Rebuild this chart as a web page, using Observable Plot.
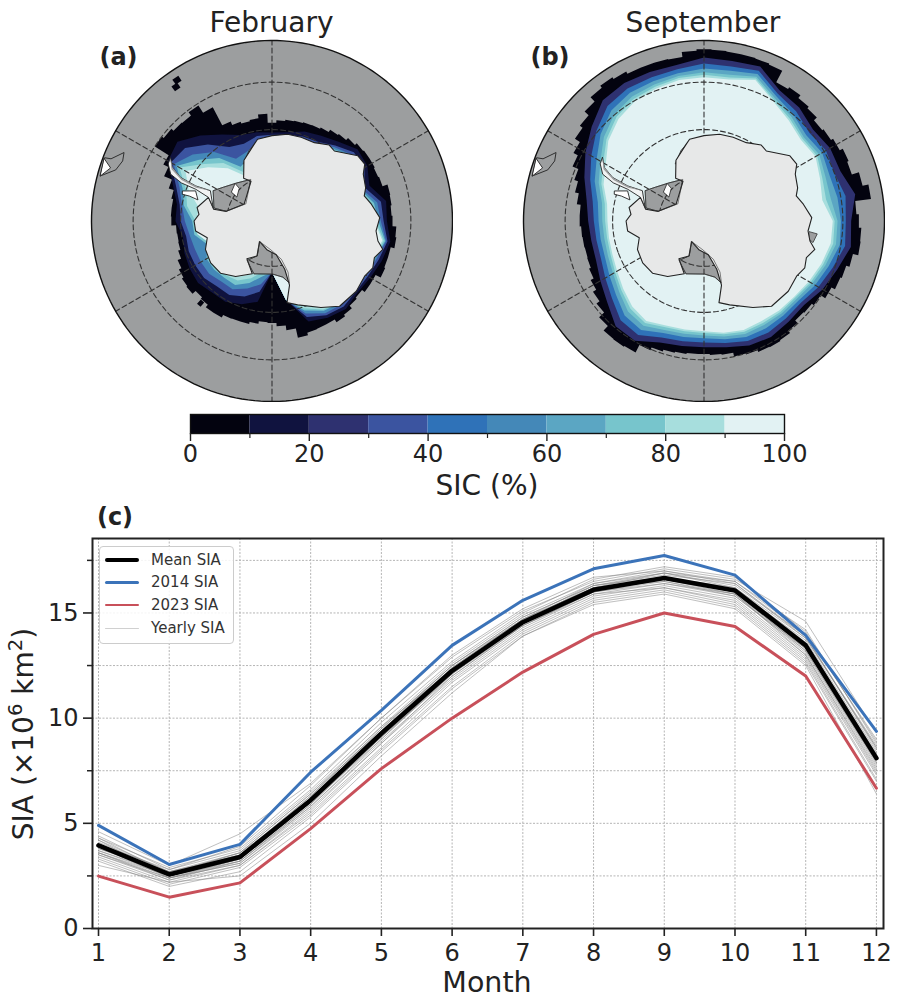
<!DOCTYPE html>
<html><head><meta charset="utf-8">
<script src="https://cdn.jsdelivr.net/npm/d3@7"></script>
<script src="https://cdn.jsdelivr.net/npm/@observablehq/plot@0.6"></script>
<style>
html,body{margin:0;padding:0;background:#fff}
#page{position:relative;width:897px;height:998px;overflow:hidden;font-family:"DejaVu Sans",sans-serif;color:#222}
#page svg{position:absolute;background:transparent;font-family:"DejaVu Sans",sans-serif}
.lab{position:absolute;transform:translate(-50%,-50%);white-space:nowrap;line-height:1}
.lab sup{font-size:.7em;line-height:0;vertical-align:.55em}
</style></head><body><div id="page"></div>
<script>
// ---------- chart (c) data ----------
const months=[1,2,3,4,5,6,7,8,9,10,11,12];
const meanSIA=[3.95,2.57,3.4,6.1,9.27,12.25,14.56,16.1,16.66,16.07,13.46,8.1];
const sia2014=[4.9,3.04,4.0,7.43,10.37,13.46,15.6,17.1,17.73,16.8,13.93,9.37];
const sia2023=[2.49,1.49,2.17,4.75,7.6,10.0,12.19,13.98,15.0,14.36,12.0,6.67];
const yearlySIA=[
[4.6,3.0,4.5,6.9,10.0,12.9,15.1,16.5,17.1,16.6,14.6,9.3],
[4.3,2.9,3.8,6.6,9.8,12.7,15.0,16.6,17.2,16.7,14.1,8.9],
[4.4,2.8,3.9,6.8,10.0,13.0,15.2,16.7,17.0,16.4,13.9,8.6],
[4.2,2.7,3.6,6.4,9.6,12.6,14.9,16.4,16.9,16.3,13.9,8.5],
[4.1,2.7,3.5,6.3,9.5,12.5,14.8,16.3,16.8,16.4,13.8,8.6],
[4.0,2.6,3.6,6.4,9.4,12.4,14.7,16.2,16.9,16.2,13.6,8.3],
[3.9,2.5,3.3,6.2,9.4,12.5,14.8,16.3,16.7,16.0,13.5,8.2],
[3.8,2.6,3.4,6.0,9.2,12.2,14.5,16.1,16.6,16.1,13.4,8.0],
[3.9,2.4,3.2,5.9,9.1,12.0,14.4,16.0,16.5,15.9,13.3,7.9],
[3.7,2.5,3.3,6.0,9.0,12.1,14.6,16.2,16.7,16.1,13.7,8.4],
[3.6,2.4,3.1,5.8,8.9,11.9,14.3,15.9,16.4,15.8,13.2,7.8],
[3.6,2.3,3.0,5.6,8.8,11.8,14.2,15.8,16.3,15.7,13.0,7.6],
[3.5,2.3,3.2,5.9,9.2,12.3,14.5,16.0,16.4,15.9,13.1,7.7],
[3.4,2.2,3.0,5.5,8.6,11.7,14.1,15.7,16.2,15.6,12.9,7.4],
[3.3,2.1,2.9,5.4,8.5,11.5,14.0,15.6,16.1,15.4,12.7,7.1],
[3.2,2.0,2.7,5.3,8.4,11.4,13.9,15.5,16.0,15.3,12.6,7.0],
[3.7,2.6,3.5,6.2,9.3,12.2,14.5,16.1,16.7,16.2,13.8,8.7],
[4.0,2.8,3.7,6.5,9.6,12.3,14.6,16.3,16.9,16.5,14.0,9.0],
[3.0,2.2,2.5,5.0,8.2,11.2,13.9,15.4,15.9,15.2,12.5,6.4],
[4.2,2.4,3.3,6.1,9.3,12.4,14.7,16.2,16.5,15.8,13.3,8.1],
[3.8,2.7,3.4,6.3,9.5,12.5,14.7,16.4,17.0,16.5,14.2,8.8],
[3.5,2.4,3.1,5.7,8.8,12.0,14.4,15.9,16.2,15.5,12.8,7.3],
[4.3,2.6,3.6,6.0,9.1,12.1,14.4,16.0,16.6,16.0,13.2,7.9],
[3.6,2.5,3.2,5.8,9.0,12.2,14.6,16.2,16.6,15.9,13.0,7.5]];
const yMajor=[0,5,10,15], yMinor=[2.5,7.5,12.5,17.5];
const legendNames=["Mean SIA","2014 SIA","2023 SIA","Yearly SIA"];
const legendColors=["#000","#3b73b9","#c8505a","#d0d0d0"];

// ---------- colour bar ----------
const sicThresholds=[10,20,30,40,50,60,70,80,90];
const sicColors=["#03030f","#10133f","#2e3170","#3b54a0","#2f72b8","#4488b8","#5ba6c3","#77c5cc","#a7dedd","#e2f2f3"];
const sicBinStarts=[0,10,20,30,40,50,60,70,80,90];
const sicMajor=[0,20,40,60,80,100], sicMinor=[10,30,50,70,90];

// ---------- ice edge latitude per 5 deg sector, from lon -180 ----------
const febOuter=[-67.7,-67.9,-67.4,-67.0,-67.0,-66.9,-66.3,-66.3,-67.0,-67.4,-66.5,-66.7,-67.1,-67.7,-68.5,-69.0,-69.1,-69.0,-68.0,-67.9,-67.9,-67.5,-66.4,-64.6,-63.4,-60.0,-60.5,-61.1,-61.2,-60.4,-62.2,-66.5,-67.3,-67.7,-67.4,-66.6,-68.5,-68.0,-67.7,-67.6,-67.4,-67.3,-67.0,-66.4,-66.1,-65.5,-65.0,-64.8,-64.8,-65.0,-64.8,-63.7,-63.8,-64.0,-63.8,-63.0,-62.8,-63.6,-63.6,-63.4,-64.6,-64.6,-65.3,-65.0,-64.3,-63.9,-64.6,-64.6,-64.5,-64.0,-66.0,-67.0];
const sepOuter=[-61.2,-61.2,-61.0,-60.8,-60.4,-59.8,-58.1,-57.9,-58.0,-59.3,-60.7,-61.5,-62.3,-63.0,-63.4,-63.5,-63.4,-63.3,-63.0,-63.0,-62.2,-61.4,-60.6,-59.3,-58.3,-57.1,-56.4,-55.3,-54.1,-53.6,-54.0,-54.5,-54.5,-54.5,-54.6,-53.6,-53.3,-53.4,-53.5,-53.5,-53.6,-53.8,-56.4,-56.0,-56.7,-57.1,-57.9,-57.6,-57.1,-56.4,-56.7,-55.2,-54.0,-57.2,-56.7,-56.2,-56.1,-57.2,-57.9,-58.2,-59.0,-60.1,-60.6,-60.8,-60.1,-59.5,-59.3,-59.4,-59.8,-60.0,-60.8,-61.0];

// ---------- SIC contour latitudes per 10 deg, from lon -180 ----------
const feb10=[-78.7,-72.0,-70.6,-69.6,-69.6,-68.9,-69.2,-69.6,-70.2,-68.9,-68.9,-67.0,-63.9,-63.2,-65.7,-68.2,-70.0,-70.3,-70.6,-70.3,-69.2,-68.5,-67.4,-65.7,-66.0,-67.4,-64.8,-65.0,-63.9,-64.6,-65.3,-65.7,-65.0,-65.7,-66.7,-72.4];
const feb30=[-78.7,-74.2,-72.4,-71.3,-71.3,-70.6,-70.6,-70.6,-70.9,-70.0,-69.5,-67.7,-64.6,-65.3,-68.2,-71.3,-72.0,-71.1,-71.1,-70.9,-70.3,-70.0,-68.5,-66.7,-66.7,-68.5,-65.9,-65.7,-64.5,-65.3,-65.9,-66.1,-65.7,-66.3,-67.7,-72.4];
const feb50=[-78.7,-75.9,-74.2,-72.7,-72.7,-72.0,-72.0,-72.0,-71.7,-70.9,-70.0,-68.5,-65.3,-67.4,-70.3,-74.2,-73.8,-72.4,-71.7,-71.7,-70.9,-70.6,-68.9,-67.4,-67.0,-69.2,-66.7,-66.3,-64.8,-65.8,-66.3,-66.5,-66.3,-66.8,-68.5,-72.4];
const feb70=[-78.7,-77.6,-75.5,-73.8,-73.7,-73.4,-73.4,-74.9,-72.7,-72.5,-70.4,-69.2,-66.0,-69.2,-72.0,-76.2,-75.2,-72.4,-71.7,-71.7,-71.3,-71.0,-69.4,-67.7,-67.2,-69.6,-67.4,-66.8,-65.0,-66.1,-66.8,-66.8,-66.7,-67.4,-69.2,-72.4];
const feb85=[-78.7,-78.7,-76.6,-74.9,-74.4,-74.5,-74.2,-75.5,-73.4,-73.2,-71.1,-70.0,-66.7,-70.6,-73.4,-77.6,-76.2,-72.4,-71.7,-71.7,-71.3,-71.0,-70.0,-68.2,-67.4,-69.6,-68.2,-67.4,-65.3,-66.5,-67.0,-66.8,-66.7,-67.7,-69.7,-72.4];
const feb90=[-78.7,-78.7,-77.6,-75.9,-75.2,-75.2,-74.2,-75.5,-73.4,-73.2,-73.8,-70.6,-68.2,-71.7,-74.9,-78.7,-77.3,-72.4,-71.7,-71.7,-71.3,-71.0,-70.3,-68.2,-67.4,-69.6,-68.5,-67.7,-65.6,-66.8,-67.2,-66.8,-66.7,-68.3,-70.6,-72.4];
const sep10=[-62.6,-62.5,-62.0,-60.1,-60.3,-62.6,-64.0,-65.0,-65.1,-64.8,-64.1,-62.4,-60.4,-58.4,-56.2,-55.8,-56.0,-56.0,-55.0,-55.2,-54.8,-57.5,-58.1,-59.3,-58.6,-58.7,-57.0,-58.3,-57.9,-59.4,-60.4,-61.7,-61.5,-61.0,-61.3,-62.2];
const sep30=[-63.6,-63.5,-63.1,-61.5,-61.9,-63.9,-65.2,-66.1,-66.2,-66.0,-65.4,-63.7,-61.8,-59.7,-57.7,-57.1,-57.1,-56.9,-56.2,-56.3,-55.7,-58.3,-59.1,-60.3,-59.6,-60.0,-59.0,-59.4,-59.1,-60.4,-61.4,-62.5,-62.4,-62.1,-62.3,-63.1];
const sep50=[-64.5,-64.4,-64.1,-62.7,-63.2,-65.0,-66.2,-67.0,-67.1,-67.0,-66.5,-64.7,-63.1,-60.8,-58.9,-58.1,-58.0,-57.7,-57.2,-57.2,-56.4,-58.9,-60.0,-61.1,-60.5,-61.1,-60.7,-60.4,-60.2,-61.3,-62.2,-63.2,-63.2,-63.1,-63.2,-63.9];
const sep70=[-65.1,-65.1,-64.8,-63.7,-64.3,-65.9,-67.1,-67.7,-67.9,-67.8,-67.4,-65.6,-64.0,-61.7,-59.9,-59.0,-58.7,-58.3,-58.0,-58.0,-57.0,-59.4,-60.6,-61.8,-61.2,-62.0,-62.1,-61.1,-61.0,-62.0,-62.9,-63.7,-63.8,-63.9,-63.9,-64.5];
const sep85=[-65.6,-65.6,-65.4,-64.4,-65.1,-66.5,-67.6,-68.3,-68.5,-68.4,-68.0,-66.2,-64.7,-62.4,-60.6,-59.6,-59.2,-58.7,-58.5,-58.6,-57.4,-59.8,-61.1,-62.2,-61.7,-62.7,-63.1,-61.7,-61.6,-62.5,-63.3,-64.1,-64.2,-64.4,-64.4,-65.0];
const sep90=[-66.0,-66.0,-65.8,-64.9,-65.7,-67.0,-68.1,-68.7,-68.9,-68.9,-68.5,-66.7,-65.3,-62.9,-61.2,-60.1,-59.6,-59.1,-59.0,-59.0,-57.7,-60.1,-61.5,-62.6,-62.1,-63.2,-63.9,-62.1,-62.1,-62.9,-63.7,-64.4,-64.6,-64.9,-64.8,-65.3];
const febSpecks=[[-34,-53.7],[-35.6,-54.7],[-139,-66.3]];
const febClasses=[5,15,35,55,75,85,95];
const sepClasses=[5,25,45,65,75,85,95];

// ---------- geography (lon, lat) ----------
const antarctica=[[0,-71.3],[10.2,-70.7],[19.2,-70.6],[28.4,-70.5],[37,-69.2],[41.7,-69.5],[52.8,-66.5],[58.5,-66.3],[62.8,-67.6],[70.5,-68.3],[74.8,-69.1],[80.4,-68],[88.2,-66.5],[95.5,-67.2],[100.7,-66.5],[104.4,-65.1],[109.7,-66.3],[114.9,-65.8],[120.8,-66.5],[129.8,-66.1],[141.6,-66.3],[150.5,-68.3],[163,-70.8],[169.6,-71.8],[164.7,-75.4],[165.2,-79],[172.8,-82.5],[-170.8,-83.5],[-149,-84.7],[-156.7,-81.6],[-146.4,-80],[-159.5,-77.6],[-146.8,-75.4],[-135.4,-73.9],[-124.3,-73.7],[-113.2,-74.1],[-104.5,-75.3],[-97.5,-73.1],[-90,-72.9],[-84.8,-73.9],[-79.8,-73.3],[-69.6,-75.1],[-78.6,-76.9],[-78.1,-79.7],[-58.4,-82.8],[-27.9,-80.1],[-33.6,-78.7],[-24.8,-75.3],[-13,-72.7],[-10,-71.8]];
const peninsula=[[-58,-64],[-61.8,-65.4],[-64.5,-67.9],[-65.3,-71.6],[-63.8,-74.9],[-77,-76.7],[-69.6,-75.1],[-67.4,-71.9],[-67.2,-68.5],[-65.2,-65.7],[-61.3,-64.3]];
const larsen=[[-58,-64],[-61.8,-65.4],[-64.5,-67.9],[-65.3,-71.6],[-63.8,-74.9],[-66.3,-71.8],[-65.7,-68.3],[-62.8,-65.4]];
const alexander=[[-71.4,-69.4],[-68.5,-72],[-74.1,-73.1],[-73.2,-71.1],[-73.4,-69.6]];
const ronne=[[-62.5,-75.5],[-55,-77],[-42.6,-78.6],[-27,-79.7],[-56.7,-83.1],[-78.1,-79.7],[-77.4,-77]];
const berkner=[[-54.2,-79],[-44.5,-78.4],[-45,-79.8],[-55.3,-80.6]];
const ross=[[-149,-84.7],[-178,-83.6],[166.2,-81.3],[162.6,-78.2],[164.3,-75.8],[169,-77.4],[179.3,-78.3],[-161.1,-77.7],[-147.6,-79.7],[-156.7,-81.6]];
const amery=[[69.9,-71.9],[68.6,-71],[70.5,-68.6],[75.2,-69.2],[74.5,-70.9],[71.4,-72]];
const riiser=[[-26.6,-75.9],[-18,-73.7],[-11.5,-72.4],[-19.3,-75.8]];
const westShelf=[[95.8,-66.9],[96.5,-65.2],[101.2,-65.8],[99.9,-66.7]];
const fuegoHook=[[-65.3,-55.1],[-68.1,-55.5],[-71.9,-54.8],[-75.3,-52.2],[-69.3,-51.9],[-68.9,-53.1]];
const fuegoWhite=[[-69.6,-51.9],[-71.8,-53.7],[-75.3,-52.2]];
const rings=[10,20,30];
const meridians=[0,60,120,180,-120,-60];
const mapRadius=38.4;

// ---------- helpers ----------
const page=document.getElementById("page");
const OCEAN="#9c9e9f", LAND="#e7e8e8", COAST="#333";
const poly=(coords,sic)=>{
  let ring=coords.concat([coords[0]]);
  let f={type:"Feature",properties:{sic},geometry:{type:"Polygon",coordinates:[ring]}};
  if(d3.geoArea(f)>2*Math.PI){f.geometry.coordinates=[ring.slice().reverse()];}
  return f;
};
const sector5=(lats)=>lats.flatMap((lat,i)=>{const lon=-180+5*i;return [[lon-2.5,lat],[lon+2.5,lat]];});
const smooth10=(lats)=>lats.map((lat,i)=>[-180+10*i,lat]);
const place=(svg,left,top)=>{svg.style.left=left+"px";svg.style.top=top+"px";page.appendChild(svg);};
const label=(html,x,y,size,extra={})=>{
  const d=document.createElement("div");d.className="lab";d.innerHTML=html;
  d.style.left=x+"px";d.style.top=y+"px";d.style.fontSize=size+"px";
  if(extra.bold)d.style.fontWeight="bold";
  if(extra.rot)d.style.transform=`translate(-50%,-50%) rotate(${extra.rot}deg)`;
  page.appendChild(d);
};
const circle=d3.geoCircle().center([0,-90]).radius(mapRadius)();

function iceMap(outer,contours,classes,specks,extraShelves){
  const ice=[
    poly(sector5(outer),classes[0]),
    ...specks.map(([lon,lat])=>poly([[lon-1.2,lat+.6],[lon+1.2,lat+.6],[lon+1.2,lat-.6],[lon-1.2,lat-.6]],classes[0])),
    ...contours.map((c,i)=>poly(smooth10(c),classes[i+1]))];
  const shelves=[ronne,ross,amery,riiser,...extraShelves].map(c=>poly(c));
  const grat={type:"MultiLineString",coordinates:meridians.map(l=>[[l,-90],[l,-90+mapRadius]])};
  return Plot.plot({
    width:363,height:363,margin:1,
    projection:{type:"stereographic",rotate:[0,90],domain:circle,clip:mapRadius+.1,inset:0},
    color:{type:"threshold",domain:sicThresholds,range:sicColors},
    marks:[
      Plot.geo(circle,{fill:OCEAN}),
      Plot.geo(poly(fuegoHook),{fill:OCEAN,stroke:"#222",strokeWidth:.9}),
      Plot.geo(poly(fuegoWhite),{fill:"#fff",stroke:"#222",strokeWidth:.9}),
      Plot.geo(ice,{fill:d=>d.properties.sic}),
      Plot.geo(shelves,{fill:OCEAN,stroke:COAST,strokeWidth:.8}),
      Plot.geo(grat,{stroke:"#333",strokeWidth:1.1,strokeDasharray:"5 3",fill:"none"}),
      Plot.geo(rings.map(r=>d3.geoCircle().center([0,-90]).radius(r)()),{stroke:"#333",strokeWidth:1.1,strokeDasharray:"5 3",fill:"none"}),
      Plot.geo(poly(antarctica),{fill:LAND,stroke:"#222",strokeWidth:1.1}),
      Plot.geo(shelves.slice(0,2),{stroke:COAST,strokeWidth:.6,fill:"none"}),
      Plot.geo(poly(peninsula),{fill:"#f2f3f3",stroke:"#222",strokeWidth:.9}),
      Plot.geo(poly(larsen),{fill:OCEAN,stroke:"none"}),
      Plot.geo(poly(alexander),{fill:"#fff",stroke:"#222",strokeWidth:.9}),
      Plot.geo(poly(berkner),{fill:"#fff",stroke:"#222",strokeWidth:.8}),
      Plot.geo(circle,{stroke:"#111",strokeWidth:1.4,fill:"none"})
    ]
  });
}

// ---------- maps ----------
place(iceMap(febOuter,[feb10,feb30,feb50,feb70,feb85,feb90],febClasses,febSpecks,[]),89.5,38.5);
place(iceMap(sepOuter,[sep10,sep30,sep50,sep70,sep85,sep90],sepClasses,[],[westShelf]),521.8,38.5);
label("February",271.5,23,28);
label("September",703,23,28);
label("(a)",118.5,57,24,{bold:true});
label("(b)",550,57,24,{bold:true});

// ---------- colour bar ----------
const cbar=Plot.plot({
  width:640,height:70,marginLeft:20,marginRight:26,marginTop:9,marginBottom:42,
  x:{domain:[0,100]},
  color:{type:"threshold",domain:sicThresholds,range:sicColors},
  marks:[
    Plot.rectX(sicBinStarts,{x1:d=>d,x2:d=>d+10,fill:d=>d+5}),
    Plot.frame({stroke:"#111",strokeWidth:1.4}),
    Plot.axisX({ticks:sicMinor,tickSize:5,text:null,label:null,strokeWidth:1.2}),
    Plot.axisX({ticks:sicMajor,tickSize:8,tickPadding:3,fontSize:24,label:null,strokeWidth:1.4,color:"#222",tickFormat:d=>String(d)})
  ],
  style:{fontFamily:"DejaVu Sans"}
});
place(cbar,170,405);
label("SIC (%)",487,486,28);

// ---------- chart (c) ----------
const lineOf=(vals,stroke,w,extra={})=>Plot.line(months,{x:d=>d,y:(d,i)=>vals[i],stroke,strokeWidth:w,...extra});
const chart=Plot.plot({
  width:897,height:493,marginLeft:92,marginRight:14,marginTop:33,marginBottom:70,
  x:{domain:[0.915,12.1]},y:{domain:[0,18.54]},
  marks:[
    Plot.gridX(months,{x:d=>d,stroke:"#b5b5b5",strokeOpacity:1,strokeDasharray:"2 1.5"}),
    Plot.gridY(yMajor.concat(yMinor),{y:d=>d,stroke:"#b5b5b5",strokeOpacity:1,strokeDasharray:"2 1.5"}),
    ...yearlySIA.map(v=>lineOf(v,"#808080",1,{strokeOpacity:.5})),
    lineOf(sia2014,"#3b73b9",3),
    lineOf(sia2023,"#c8505a",3),
    lineOf(meanSIA,"#000",4.6),
    Plot.frame({stroke:"#222",strokeWidth:2}),
    Plot.axisY({ticks:yMinor,tickSize:5,text:null,label:null,strokeWidth:1.5}),
    Plot.axisY({ticks:yMajor,tickSize:9,tickPadding:5,fontSize:24,label:null,strokeWidth:1.6,color:"#222",tickFormat:d=>String(d)}),
    Plot.axisX({ticks:months,tickSize:8,tickPadding:7,fontSize:24,label:null,strokeWidth:1.6,color:"#222",tickFormat:d=>String(d)})
  ],
  style:{fontFamily:"DejaVu Sans"}
});
place(chart,0,505);
label("(c)",115,517,24,{bold:true});
label("Month",487,983,28.5);
label("SIA (×10<sup>6</sup> km<sup>2</sup>)",24,734,28,{rot:-90});

// ---------- legend ----------
const leg=document.createElement("div");
leg.style.cssText="position:absolute;left:99px;top:546px;width:133px;height:96px;border:1px solid #ccc;border-radius:4px;background:rgba(255,255,255,.85)";
page.appendChild(leg);
const legWidths=[4,2.4,2.4,1.2];
legendNames.forEach((n,i)=>{
  const row=document.createElement("div");
  row.style.cssText=`position:absolute;left:5px;top:${1+i*22.9}px;height:23px;display:flex;align-items:center;font-size:15px;color:#333;white-space:nowrap`;
  const sw=document.createElement("span");
  sw.style.cssText=`display:inline-block;width:34px;height:${legWidths[i]}px;background:${legendColors[i]};margin-right:12px;border-radius:2px`;
  row.appendChild(sw);row.appendChild(document.createTextNode(n));leg.appendChild(row);
});
</script></body></html>
